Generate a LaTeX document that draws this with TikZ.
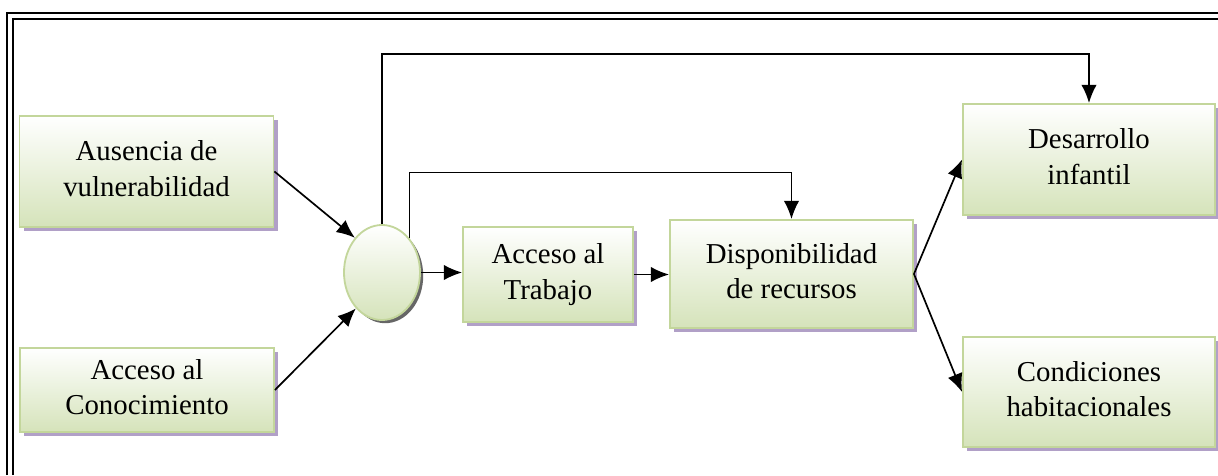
\documentclass[tikz,border=0pt]{standalone}
\usepackage{fontspec}
\setmainfont{Liberation Serif}
\usetikzlibrary{shapes.geometric,shadows,arrows.meta}

\definecolor{boxgreen}{RGB}{213,227,186}
\definecolor{boxborder}{RGB}{195,214,155}
\definecolor{boxshadow}{RGB}{177,160,199}

\tikzset{
  stepbox/.style={draw=boxborder, line width=1.3pt, top color=white, bottom color=boxgreen,
    drop shadow={shadow xshift=0.11cm, shadow yshift=-0.11cm, fill=boxshadow, opacity=1},
    inner sep=0pt, font=\fontsize{20.5}{25}\selectfont},
  joinnode/.style={ellipse, draw=boxborder, line width=1.3pt, top color=white, bottom color=boxgreen,
    drop shadow={shadow xshift=0.08cm, shadow yshift=-0.08cm, fill=black!60, opacity=1},
    inner sep=0pt, minimum width=1.9cm, minimum height=2.375cm},
  flow/.style={-{Latex[length=13pt,width=11pt]}, line width=1.2pt}
}

\begin{document}
\begin{tikzpicture}[x=0.025cm, y=0.025cm]
%			\draw[help lines, step=50] (0,0) grid (1218,475);
			\useasboundingbox (0,0) rectangle (1218,475);
			\draw[line width=1.6pt] (7,0) -- (7,462) -- (1218,462);
			\draw[line width=1.6pt] (13,0) -- (13,456) -- (1218,456);
			\node[stepbox, minimum width=6.35cm, minimum height=2.775cm] (ausencia) at (146.5,303.5) {\begin{tabular}{c} Ausencia de \\ vulnerabilidad \end{tabular}};
			\node[stepbox, minimum width=6.35cm, minimum height=2.1cm] (conoc) at (147,85) {\begin{tabular}{c} Acceso al \\ Conocimiento \end{tabular}};
			\node[joinnode] (circ) at (382,202.5) {};
			\node[stepbox, minimum width=4.25cm, minimum height=2.375cm] (trabajo) at (548,200.5) {\begin{tabular}{c} Acceso al \\ Trabajo \end{tabular}};
			\node[stepbox, minimum width=6.075cm, minimum height=2.7cm] (dispon) at (791.5,201) {\begin{tabular}{c} Disponibilidad \\ de recursos \end{tabular}};
			\node[stepbox, minimum width=6.3cm, minimum height=2.775cm] (desarrollo) at (1089,315.5) {\begin{tabular}{c} Desarrollo \\ infantil \end{tabular}};
			\node[stepbox, minimum width=6.3cm, minimum height=2.75cm] (condic) at (1089,83) {\begin{tabular}{c} Condiciones \\ habitacionales \end{tabular}};
			\draw[flow] (ausencia.east) -- (circ.128);
			\draw[flow] (conoc.east) -- (circ.234);
			\draw[flow] (circ.east) -- (circ.east -| trabajo.west);
			\draw[flow] (trabajo.east) -- (trabajo.east -| dispon.west);
			\draw[flow] (circ.north) -- ++(0,170) -| (desarrollo.north);
			\draw[flow] (circ.51) -- ++(0,66) -| (dispon.north);
			\draw[flow] (dispon.east) -- (desarrollo.west);
			\draw[flow] (dispon.east) -- (condic.west);
		\end{tikzpicture}
\end{document}
